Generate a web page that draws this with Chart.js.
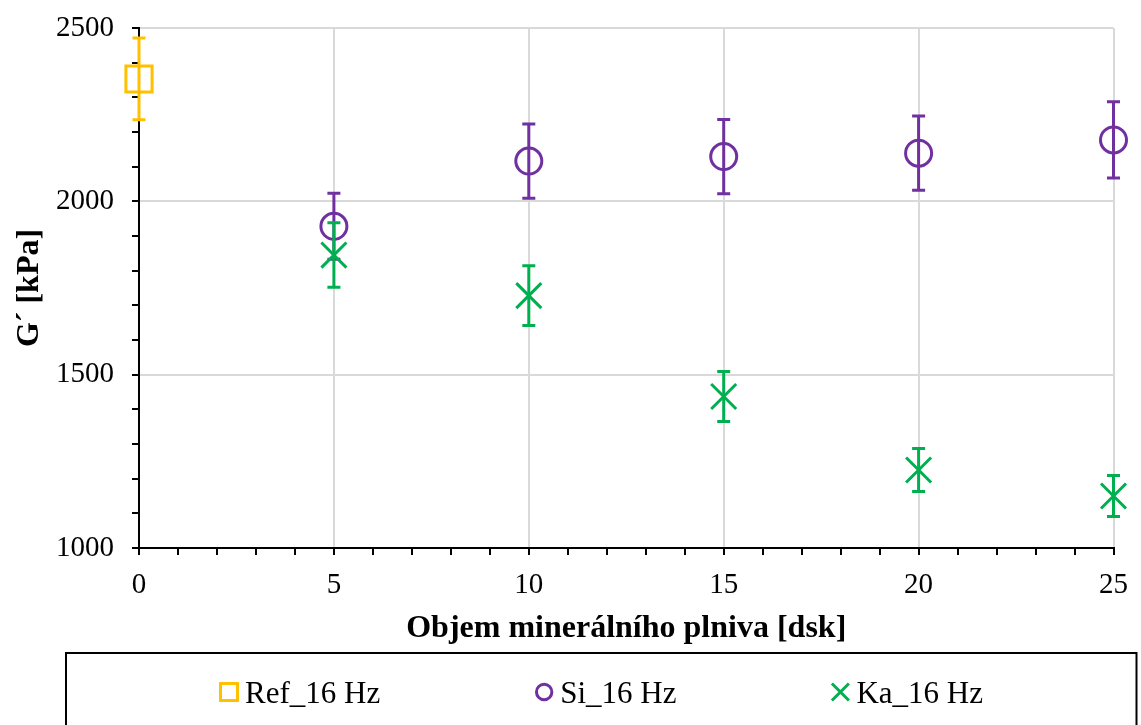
<!DOCTYPE html>
<html>
<head>
<meta charset="utf-8">
<script src="https://cdn.jsdelivr.net/npm/chart.js@4.4.1/dist/chart.umd.min.js"></script>
<style>
    body { margin: 0; background: #fff; }
    #wrap { width: 1141px; height: 725px; }
</style>
</head>
<body>
<div id="wrap"><canvas id="modulusChart" width="1141" height="725"></canvas></div>
<script>
// G' at 16 Hz vs. filler volume
const seriesLabels = ['Ref_16 Hz', 'Si_16 Hz', 'Ka_16 Hz'];
const seriesColors = ['#FFC000', '#7030A0', '#00B050'];

const refVolume = [0];
const refValues = [2353];
const refErrors = [118];

const fillerVolume = [5, 10, 15, 20, 25];
const siValues = [1928, 2116, 2129, 2139, 2177];
const siErrors = [95, 107, 107, 107, 110];
const kaValues = [1845, 1728, 1437, 1225, 1150];
const kaErrors = [93, 86, 72, 62, 59];

const xTickLabels = [0, 5, 10, 15, 20, 25];
const yTickLabels = [1000, 1500, 2000, 2500];

const serif = "'Liberation Serif', 'Times New Roman', serif";
const gridGray = '#d9d9d9';

function toPoints(xs, ys) {
    return xs.map((x, i) => ({ x: x, y: ys[i] }));
}

// vertical error bars with caps, drawn right after each dataset
const errorBarPlugin = {
    id: 'errorBars',
    afterDatasetDraw(chart, args) {
        const ds = chart.data.datasets[args.index];
        if (!ds.errors) return;
        const ctx = chart.ctx;
        const xs = chart.scales.x;
        const ys = chart.scales.y;
        const cap = 6.5;
        ctx.save();
        ctx.strokeStyle = ds.borderColor;
        ctx.lineWidth = 3;
        ds.data.forEach((p, i) => {
            const px = xs.getPixelForValue(p.x);
            const top = ys.getPixelForValue(p.y + ds.errors[i]);
            const bottom = ys.getPixelForValue(p.y - ds.errors[i]);
            ctx.beginPath();
            ctx.moveTo(px, top);
            ctx.lineTo(px, bottom);
            ctx.moveTo(px - cap, top);
            ctx.lineTo(px + cap, top);
            ctx.moveTo(px - cap, bottom);
            ctx.lineTo(px + cap, bottom);
            ctx.stroke();
        });
        ctx.restore();
    }
};

// boxed legend below the plot
const boxLegendPlugin = {
    id: 'boxLegend',
    afterDraw(chart) {
        const ctx = chart.ctx;
        ctx.save();
        ctx.strokeStyle = '#000';
        ctx.lineWidth = 2;
        ctx.strokeRect(66, 653, 1070.5, 80);

        ctx.font = '31px ' + serif;
        ctx.textBaseline = 'alphabetic';
        const markerY = 692;
        let x = 219;
        seriesLabels.forEach((label, i) => {
            const style = chart.data.datasets[i].pointStyle;
            const cx = x + 10;
            ctx.strokeStyle = seriesColors[i];
            ctx.lineWidth = 3;
            ctx.beginPath();
            if (style === 'rect') {
                ctx.rect(cx - 8.5, markerY - 8.5, 17, 17);
            } else if (style === 'circle') {
                ctx.arc(cx, markerY, 7.7, 0, Math.PI * 2);
            } else {
                ctx.moveTo(cx - 8.5, markerY - 8.5);
                ctx.lineTo(cx + 8.5, markerY + 8.5);
                ctx.moveTo(cx + 8.5, markerY - 8.5);
                ctx.lineTo(cx - 8.5, markerY + 8.5);
            }
            ctx.stroke();
            ctx.fillStyle = '#000';
            ctx.fillText(label, x + 26, 703);
            x += 26 + ctx.measureText(label).width + 154;
        });
        ctx.restore();
    }
};

const ctx = document.getElementById('modulusChart').getContext('2d');

const modulusChart = new Chart(ctx, {
    type: 'scatter',
    data: {
        datasets: [
            {
                label: seriesLabels[0],
                data: toPoints(refVolume, refValues),
                errors: refErrors,
                borderColor: seriesColors[0],
                backgroundColor: 'rgba(0,0,0,0)',
                pointStyle: 'rect',
                pointRadius: 18.5,
                pointBorderWidth: 3,
                clip: false,
                order: 2
            },
            {
                label: seriesLabels[1],
                data: toPoints(fillerVolume, siValues),
                errors: siErrors,
                borderColor: seriesColors[1],
                backgroundColor: 'rgba(0,0,0,0)',
                pointStyle: 'circle',
                pointRadius: 13,
                pointBorderWidth: 3,
                clip: false,
                order: 1
            },
            {
                label: seriesLabels[2],
                data: toPoints(fillerVolume, kaValues),
                errors: kaErrors,
                borderColor: seriesColors[2],
                backgroundColor: 'rgba(0,0,0,0)',
                pointStyle: 'crossRot',
                pointRadius: 17.7,
                pointBorderWidth: 3,
                clip: false,
                order: 0
            }
        ]
    },
    options: {
        responsive: false,
        animation: false,
        events: [],
        layout: {
            padding: { top: 28, right: 24, bottom: 73, left: 0 }
        },
        plugins: {
            legend: { display: false },
            tooltip: { enabled: false }
        },
        scales: {
            x: {
                type: 'linear',
                min: 0,
                max: 25,
                afterFit: (scale) => { scale.height = 104; },
                border: { color: '#000', width: 2 },
                grid: {
                    color: (c) => (c.tick && c.tick.value > 0 && xTickLabels.includes(c.tick.value)) ? gridGray : 'rgba(0,0,0,0)',
                    lineWidth: 2,
                    tickColor: '#000',
                    tickLength: 7,
                    tickWidth: 2
                },
                ticks: {
                    stepSize: 1,
                    autoSkip: false,
                    maxRotation: 0,
                    padding: 13,
                    color: '#000',
                    font: { family: serif, size: 29 },
                    callback: (v) => xTickLabels.includes(v) ? String(v) : ''
                },
                title: {
                    display: true,
                    text: 'Objem minerálního plniva [dsk]',
                    color: '#000',
                    font: { family: serif, size: 32, weight: 'bold' },
                    padding: { top: 0, bottom: 4 }
                }
            },
            y: {
                type: 'linear',
                min: 1000,
                max: 2500,
                afterFit: (scale) => {
                    scale.width = 139;
                    scale.paddingTop = 0;
                    scale.paddingBottom = 0;
                },
                border: { color: '#000', width: 2 },
                grid: {
                    color: (c) => (c.tick && c.tick.value > 1000 && yTickLabels.includes(c.tick.value)) ? gridGray : 'rgba(0,0,0,0)',
                    lineWidth: 2,
                    tickColor: '#000',
                    tickLength: 7,
                    tickWidth: 2
                },
                ticks: {
                    stepSize: 100,
                    autoSkip: false,
                    padding: 18,
                    color: '#000',
                    font: { family: serif, size: 29 },
                    callback: (v) => yTickLabels.includes(v) ? String(v) : ''
                },
                title: {
                    display: true,
                    text: 'G´ [kPa]',
                    color: '#000',
                    font: { family: serif, size: 32, weight: 'bold' },
                    padding: { top: 11, bottom: 0 }
                }
            }
        }
    },
    plugins: [errorBarPlugin, boxLegendPlugin]
});
</script>
</body>
</html>
